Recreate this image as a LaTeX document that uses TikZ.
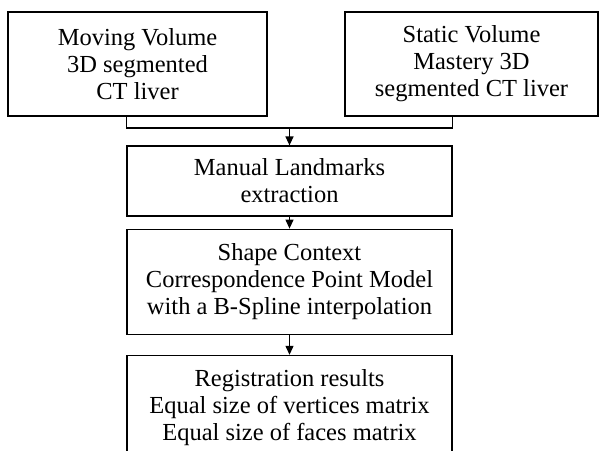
\documentclass[tikz,border=0pt]{standalone}
\usepackage{fontspec}
\setmainfont{Liberation Serif}
\usetikzlibrary{positioning,arrows.meta}

\begin{document}
\begin{tikzpicture}[x=1pt, y=-1pt, line width=1.2pt, node distance=12pt, >={Triangle[width=8pt,length=9pt]}, every node/.style={draw, align=center, inner sep=0pt, font=\fontsize{24.5}{27}\selectfont}]
\clip (0,0) rectangle (599,450);
\node[minimum width=259pt, minimum height=104pt] (moving) at (137.5,64) {Moving Volume\\3D segmented\\CT liver};
\node[minimum width=253pt, minimum height=104pt] (static) at (471.5,64) {Static Volume\\Mastery 3D\\segmented CT liver};
\node[minimum width=325pt, minimum height=70pt] (landmarks) at (289.5,181) {Manual Landmarks\\extraction};
\node[below=12pt of landmarks, minimum width=325pt, minimum height=105pt] (shape) {Shape Context\\Correspondence Point Model\\with a B-Spline interpolation};
\node[below=20pt of shape, minimum width=325pt, minimum height=105pt] (results) {Registration results\\Equal size of vertices matrix\\Equal size of faces matrix};
\coordinate (join) at (289.5,128);
\draw (moving.south -| landmarks.west) |- (join);
\draw (static.south -| landmarks.east) |- (join);
\draw[->] (join) -- (landmarks);
\draw[->] (landmarks) -- (shape);
\draw[->] (shape) -- (results);
\end{tikzpicture}
\end{document}
